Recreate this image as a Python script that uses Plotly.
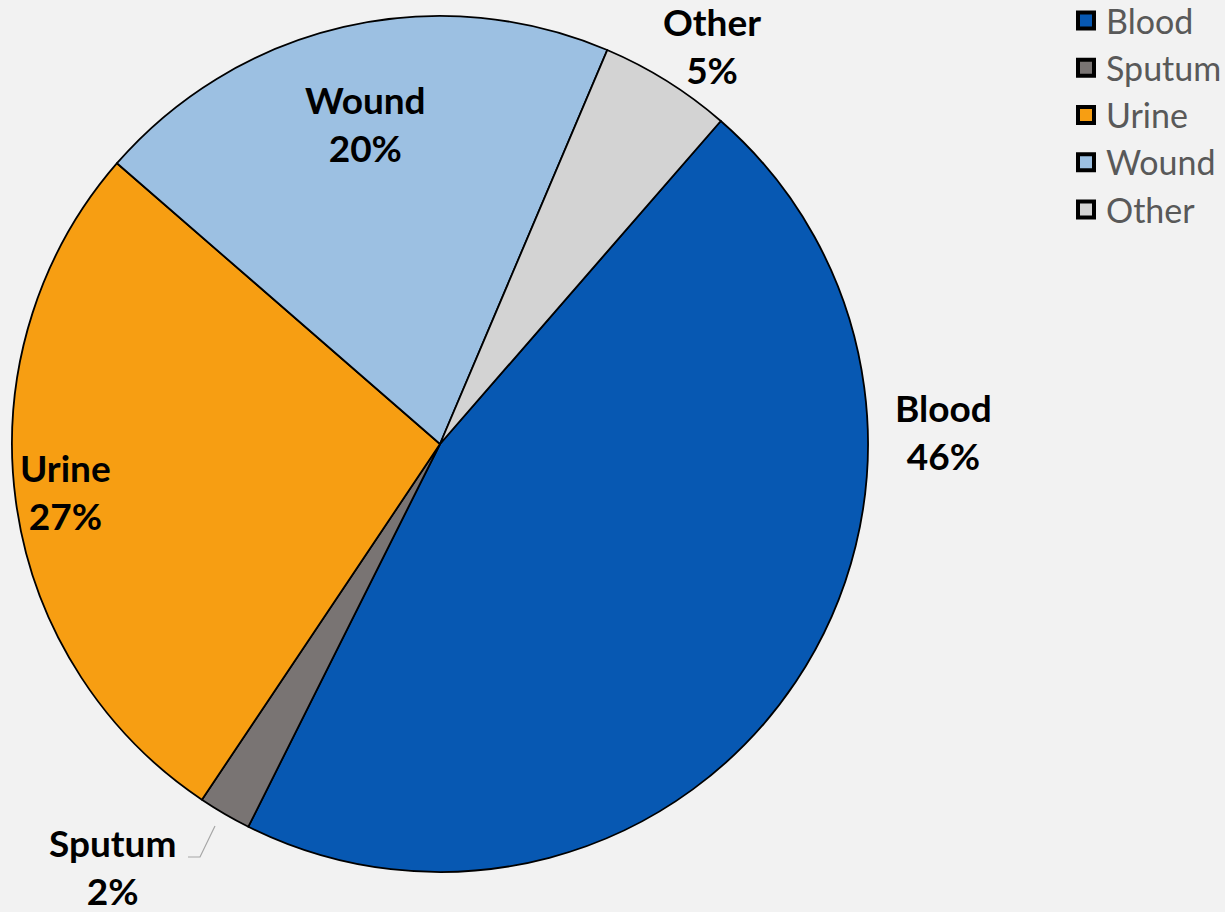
import plotly.graph_objects as go

categories = ["Blood", "Sputum", "Urine", "Wound", "Other"]
values = [46, 2, 27, 20, 5]
colors = ["#0758b2", "#797473", "#f79e12", "#9cc0e2", "#d3d3d3"]

W, H = 1225, 912
# label anchor positions (pixel) for text annotations
label_pos = {
    "Blood": (943, 432),
    "Sputum": (112, 866),
    "Urine": (65, 491),
    "Wound": (366, 123),
    "Other": (712, 46),
}

fig = go.Figure()
fig.add_trace(go.Pie(
    labels=categories,
    values=values,
    sort=False,
    direction="clockwise",
    rotation=41,
    marker=dict(colors=colors, line=dict(color="#000000", width=1.8)),
    textinfo="none",
    hoverinfo="label+percent",
    domain=dict(x=[12 / W, 868 / W], y=[1 - 872 / H, 1 - 16 / H]),
    showlegend=False,
))

# legend entries (square markers with thick dark border)
for cat, col in zip(categories, colors):
    fig.add_trace(go.Scatter(
        x=[None], y=[None], mode="markers", name=cat,
        marker=dict(symbol="square", size=16, color=col,
                    line=dict(color="#000000", width=4)),
        showlegend=True, hoverinfo="skip",
    ))

annotations = []
for cat, v in zip(categories, values):
    px, py = label_pos[cat]
    annotations.append(dict(
        x=px / W, y=1 - py / H, xref="paper", yref="paper",
        text=f"<b>{cat}</b><br><b>{v}%</b>",
        showarrow=False, xanchor="center", yanchor="middle",
        font=dict(family="Lato", size=37, color="#000000"),
    ))

fig.update_layout(
    width=W, height=H,
    margin=dict(l=0, r=0, t=0, b=0, autoexpand=False),
    paper_bgcolor="#f2f2f2",
    plot_bgcolor="#f2f2f2",
    xaxis=dict(visible=False),
    yaxis=dict(visible=False),
    annotations=annotations,
    shapes=[dict(
        type="path", xref="paper", yref="paper",
        path=f"M {215/W},{1-826/H} L {200/W},{1-857/H} L {188/W},{1-857/H}",
        line=dict(color="#a6a6a6", width=1.2),
    )],
    legend=dict(
        x=1066 / W, y=1 + 8 / H, xanchor="left", yanchor="top",
        font=dict(family="Lato", size=34, color="#595959"),
        bgcolor="rgba(0,0,0,0)",
        tracegroupgap=0,
        itemsizing="trace",
        itemwidth=30,
    ),
)

fig.write_html("out.html")
